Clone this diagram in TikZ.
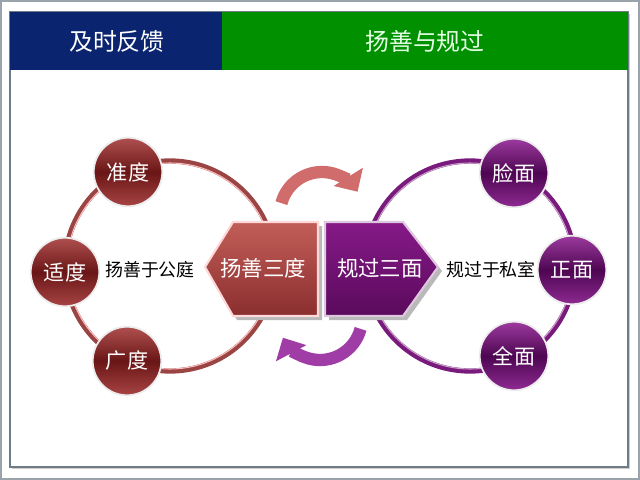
\documentclass[tikz,border=0pt]{standalone}
\usepackage{fontspec}
\setmainfont{Noto Sans CJK SC}
\usetikzlibrary{arrows.meta}
\definecolor{navy}{HTML}{0B2470}
\definecolor{hgreen}{HTML}{009000}
\definecolor{ringred}{HTML}{9A4444}
\definecolor{ringpur}{HTML}{7A1A7C}
\definecolor{arrred}{HTML}{D06C6C}
\definecolor{arrpur}{HTML}{A03CA6}
\definecolor{frame}{HTML}{6E7C88}
\definecolor{balltop}{HTML}{B05050}
\definecolor{ballmid}{HTML}{6A1616}
\definecolor{ballbot}{HTML}{A84444}
\definecolor{pballtop}{HTML}{9C3A9E}
\definecolor{pballmid}{HTML}{4E0652}
\definecolor{pballbot}{HTML}{8E2A92}
\definecolor{pentrtop}{HTML}{C25E58}
\definecolor{pentrbot}{HTML}{8A2E2E}
\definecolor{pentptop}{HTML}{861A88}
\definecolor{pentpbot}{HTML}{5A0A5C}
\begin{document}
\begin{tikzpicture}[x=0.02cm,y=-0.02cm,
  redball/.style={circle,minimum size=39pt,inner sep=0pt,draw=white!85!gray,line width=1pt,
    top color=balltop, bottom color=ballbot, middle color=ballmid,
    text=white,font=\fontsize{12pt}{14pt}\selectfont},
  purball/.style={circle,minimum size=39pt,inner sep=0pt,draw=white!85!gray,line width=1pt,
    top color=pballtop, bottom color=pballbot, middle color=pballmid,
    text=white,font=\fontsize{12pt}{14pt}\selectfont},
  lbl/.style={font=\fontsize{10.2pt}{12pt}\selectfont,text=black,inner sep=1pt},
  htext/.style={font=\fontsize{13.6pt}{16pt}\selectfont,inner sep=0pt},
  ptext/.style={font=\fontsize{12.2pt}{14pt}\selectfont,text=white,inner sep=0pt},
  bigarrow/.style={line width=7pt,-{Triangle[width=19pt,length=10pt]}}]
\useasboundingbox (0,0) rectangle (640,480);
% outer border
\draw[frame!70!white,line width=0.8pt] (1,1) rectangle (639,479);
% inner frame with shadow
\fill[gray!40] (12,14) rectangle (630,469);
\fill[white] (10,12) rectangle (628,467);
\draw[frame,line width=1.2pt] (10,12) rectangle (628,467);
% header
\fill[navy] (10,12) rectangle (222,70);
\fill[hgreen] (222,12) rectangle (628,70);
\node[htext,text=white] (h1) at (117,41) {及时反馈};
\node[htext,text=green!10!white] (h2) at (425,41) {扬善与规过};
% rings
\draw[ringred,line width=3pt] (170,266) circle[radius=105];
\draw[red!25!white,line width=0.6pt] (170,266) circle[radius=103];
\draw[ringpur,line width=3pt] (470,266) circle[radius=105];
\draw[ringpur!40!white,line width=0.6pt] (470,266) circle[radius=103];
% curved arrows
\draw[bigarrow,arrred] (322,214) ++(195:42) arc[start angle=195,end angle=328,radius=42];
\draw[bigarrow,arrpur] (320,318) ++(15:42) arc[start angle=15,end angle=152,radius=42];
% pentagons with shadow
\fill[gray!55] (209,271) -- (237,226) -- (322,226) -- (322,320) -- (237,320) -- cycle;
\shade[top color=pentrtop, bottom color=pentrbot, draw=red!15!white, line width=1.2pt]
  (205,267) -- (233,222) -- (318,222) -- (318,316) -- (233,316) -- cycle;
\fill[gray!55] (329,226) -- (407,226) -- (442,271) -- (407,320) -- (329,320) -- cycle;
\shade[top color=pentptop, bottom color=pentpbot, draw=ringpur!25!white, line width=1.2pt]
  (325,222) -- (403,222) -- (438,267) -- (403,316) -- (325,316) -- cycle;
\node[ptext] (p1) at (263,268) {扬善三度};
\node[ptext] (p2) at (380,268) {规过三面};
% balls
\node[redball] (b1) at (128,172) {准度};
\node[redball] (b2) at (65,272) {适度};
\node[redball] (b3) at (127,361) {广度};
\node[purball] (c1) at (514,173) {脸面};
\node[purball] (c2) at (572,270) {正面};
\node[purball] (c3) at (514,356) {全面};
% labels
\node[lbl] (l1) at (150,270) {扬善于公庭};
\node[lbl] (l2) at (491,270) {规过于私室};
\end{tikzpicture}
\end{document}
